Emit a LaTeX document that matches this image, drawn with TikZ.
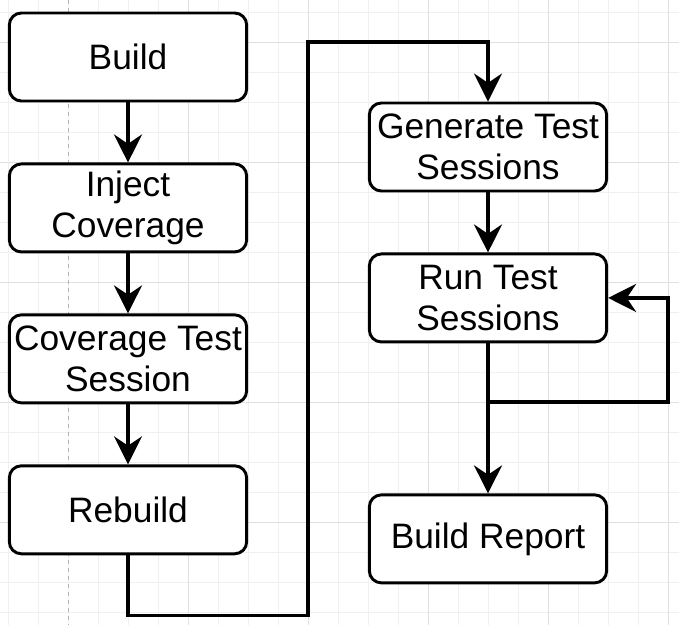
\documentclass[tikz,border=0pt]{standalone}
\usepackage{fontspec}
\setmainfont{Liberation Sans}
\usetikzlibrary{arrows.meta,positioning}

\begin{document}
\begin{tikzpicture}[
    x=0.75pt, y=-0.75pt,
    stepbox/.style={rectangle, rounded corners=9pt, draw=black, fill=white, line width=2.2pt,
        minimum width=178pt, minimum height=66pt, inner sep=1pt, align=center,
        font=\fontsize{26.5}{31}\selectfont},
    flow/.style={-{Stealth[length=21pt, width=21pt, inset=7pt]}, line width=2.4pt},
    minorline/.style={draw=black!6, line width=0.6pt},
    majorline/.style={draw=black!12, line width=0.6pt}
]
    \useasboundingbox (0,0) rectangle (679,625);
    \fill[white] (0,0) rectangle (679,625);

    % background grid
    \foreach \x in {8,38,...,668} \draw[minorline] (\x,0) -- (\x,625);
    \foreach \y in {12,42,...,612} \draw[minorline] (0,\y) -- (679,\y);
    \foreach \x in {188,308,...,668} \draw[majorline] (\x,0) -- (\x,625);
    \foreach \y in {42,162,...,522} \draw[majorline] (0,\y) -- (679,\y);
    \draw[draw=black!30, line width=0.6pt, dashed] (68,0) -- (68,625);

    % left column
    \node[stepbox] (build) at (128,57) {Build};
    \node[stepbox, below=45pt of build] (inject) {Inject\\Coverage};
    \node[stepbox, below=45pt of inject] (covsession) {Coverage Test\\Session};
    \node[stepbox, below=45pt of covsession] (rebuild) {Rebuild};

    % right column
    \node[stepbox] (gensessions) at (488,147) {Generate Test\\Sessions};
    \node[stepbox, below=45pt of gensessions] (runsessions) {Run Test\\Sessions};
    \node[stepbox, below=112.5pt of runsessions] (report) {Build Report};

    \coordinate (topturn) at (308,42);
    \coordinate (loopjoin) at (488,402);

    \draw[flow] (build) -- (inject);
    \draw[flow] (inject) -- (covsession);
    \draw[flow] (covsession) -- (rebuild);
    \draw[flow] (rebuild.south) -- ++(0,60) -| (topturn) -| (gensessions.north);
    \draw[flow] (gensessions) -- (runsessions);
    \draw[flow] (runsessions) -- (report);
    \draw[flow] (loopjoin) -- ++(180,0) |- (runsessions.east);
\end{tikzpicture}
\end{document}
